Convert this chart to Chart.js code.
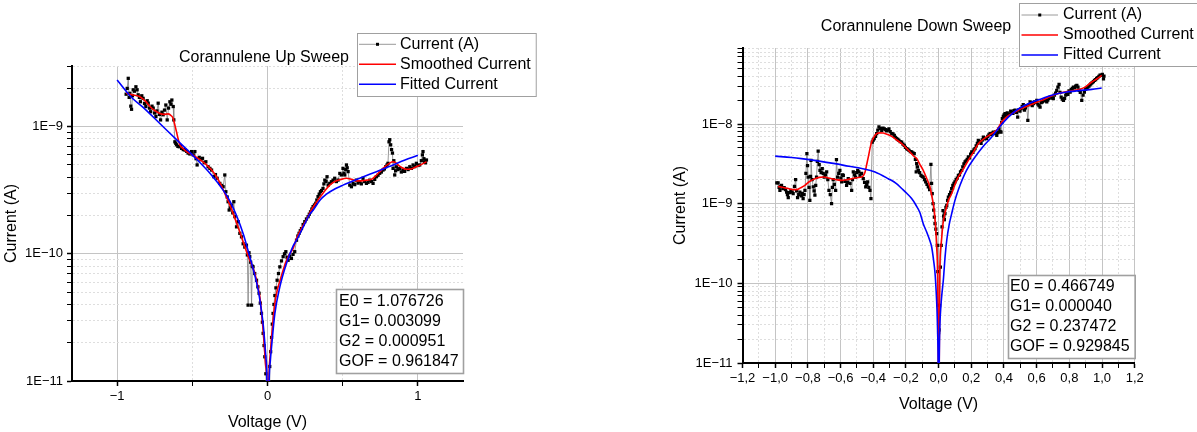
<!DOCTYPE html>
<html>
<head>
<meta charset="utf-8">
<script src="https://cdn.jsdelivr.net/npm/chart.js"></script>
<style>
  html, body { margin: 0; padding: 0; background: #fff; }
  body { width: 1197px; height: 432px; position: relative; overflow: hidden; }
  canvas { position: absolute; top: 0; }
  #up { left: 0; }
  #down { left: 600px; }
</style>
</head>
<body>
<canvas id="up" width="600" height="432"></canvas>
<canvas id="down" width="597" height="432"></canvas>
<script>
// ---- data: [voltage (V), current (A)] ----

const upCurrent = [
  [-0.940,1.80e-9],[-0.933,2.00e-9],[-0.926,2.40e-9],[-0.920,1.70e-9],[-0.915,1.83e-9],[-0.909,1.45e-9],
  [-0.904,1.37e-9],[-0.898,1.75e-9],[-0.893,1.95e-9],[-0.884,1.90e-9],[-0.875,2.06e-9],[-0.867,1.95e-9],
  [-0.860,1.78e-9],[-0.852,1.70e-9],[-0.845,1.57e-9],[-0.836,1.75e-9],[-0.827,1.67e-9],[-0.818,1.52e-9],
  [-0.809,1.44e-9],[-0.800,1.60e-9],[-0.793,1.53e-9],[-0.785,1.40e-9],[-0.777,1.31e-9],[-0.768,1.45e-9],
  [-0.760,1.40e-9],[-0.751,1.28e-9],[-0.742,1.20e-9],[-0.735,1.33e-9],[-0.727,1.53e-9],[-0.719,1.25e-9],
  [-0.711,1.13e-9],[-0.702,1.30e-9],[-0.694,1.24e-9],[-0.685,1.35e-9],[-0.676,1.48e-9],[-0.667,1.13e-9],
  [-0.658,1.40e-9],[-0.649,1.57e-9],[-0.642,1.50e-9],[-0.636,1.62e-9],[-0.627,1.44e-9],[-0.623,1.13e-9],
  [-0.616,7.6e-10],[-0.610,7.4e-10],[-0.605,7.2e-10],[-0.596,7.0e-10],[-0.587,6.95e-10],[-0.579,7.1e-10],
  [-0.571,6.75e-10],[-0.560,6.6e-10],[-0.549,6.55e-10],[-0.538,6.4e-10],[-0.528,6.2e-10],[-0.516,6.1e-10],
  [-0.505,6.37e-10],[-0.494,6.0e-10],[-0.483,6.37e-10],[-0.475,5.6e-10],[-0.468,5.0e-10],[-0.454,5.74e-10],
  [-0.443,5.5e-10],[-0.432,5.64e-10],[-0.421,5.2e-10],[-0.410,5.3e-10],[-0.395,4.84e-10],[-0.383,4.7e-10],
  [-0.372,4.56e-10],[-0.357,4.04e-10],[-0.346,4.2e-10],[-0.335,3.93e-10],[-0.317,3.58e-10],[-0.305,3.45e-10],
  [-0.295,3.37e-10],[-0.284,4.17e-10],[-0.277,3.08e-10],[-0.268,2.8e-10],[-0.262,2.57e-10],[-0.255,2.21e-10],
  [-0.247,2.3e-10],[-0.239,2.42e-10],[-0.231,2.1e-10],[-0.224,2.57e-10],[-0.217,1.96e-10],[-0.206,1.63e-10],
  [-0.195,1.79e-10],[-0.184,1.45e-10],[-0.173,1.36e-10],[-0.162,1.2e-10],[-0.151,1.13e-10],[-0.140,1.17e-10],
  [-0.134,9.8e-11],[-0.129,3.95e-11],[-0.123,1.02e-10],[-0.118,9.5e-11],[-0.112,8.6e-11],[-0.106,3.95e-11],
  [-0.101,8.0e-11],[-0.096,7.9e-11],[-0.085,7.0e-11],[-0.073,6.2e-11],[-0.064,5.5e-11],[-0.056,4.9e-11],
  [-0.048,4.1e-11],[-0.040,3.4e-11],[-0.034,2.9e-11],[-0.029,2.37e-11],[-0.023,1.9e-11],[-0.018,1.55e-11],
  [-0.011,1.14e-11],[-0.006,8.0e-12],
  [0.010,9.0e-12],[0.015,1.3e-11],[0.021,1.7e-11],[0.027,2.2e-11],[0.032,2.8e-11],[0.037,3.4e-11],
  [0.043,4.0e-11],[0.049,4.7e-11],[0.056,5.4e-11],[0.064,6.2e-11],[0.073,7.0e-11],[0.082,7.9e-11],
  [0.093,8.8e-11],[0.104,9.5e-11],[0.113,1.0e-10],[0.122,1.04e-10],[0.130,9.4e-11],[0.137,8.9e-11],
  [0.148,9.6e-11],[0.159,9.2e-11],[0.170,9.9e-11],[0.181,1.04e-10],[0.193,1.28e-10],[0.202,1.38e-10],
  [0.210,1.45e-10],[0.218,1.52e-10],[0.226,1.58e-10],[0.237,1.7e-10],[0.248,1.79e-10],[0.259,1.88e-10],
  [0.270,1.96e-10],[0.278,2.05e-10],[0.286,2.14e-10],[0.295,2.25e-10],[0.303,2.35e-10],[0.312,2.42e-10],
  [0.321,2.50e-10],[0.328,2.65e-10],[0.336,2.82e-10],[0.344,2.95e-10],[0.352,3.08e-10],[0.360,3.15e-10],
  [0.369,3.27e-10],[0.375,3.55e-10],[0.381,3.8e-10],[0.389,3.7e-10],[0.396,4.04e-10],[0.403,3.47e-10],
  [0.414,3.58e-10],[0.425,3.69e-10],[0.436,3.8e-10],[0.447,3.93e-10],[0.458,3.7e-10],[0.469,3.8e-10],
  [0.481,4.29e-10],[0.492,4.17e-10],[0.502,4.7e-10],[0.508,4.3e-10],[0.514,4.17e-10],[0.520,4.6e-10],
  [0.525,5.0e-10],[0.530,4.75e-10],[0.536,4.43e-10],[0.547,3.47e-10],[0.558,3.37e-10],[0.569,3.58e-10],
  [0.580,3.5e-10],[0.591,3.8e-10],[0.602,3.6e-10],[0.613,3.69e-10],[0.624,3.55e-10],[0.635,3.93e-10],
  [0.646,3.7e-10],[0.658,3.58e-10],[0.669,3.65e-10],[0.680,3.8e-10],[0.691,3.7e-10],[0.702,3.58e-10],
  [0.713,3.85e-10],[0.724,4.04e-10],[0.735,4.15e-10],[0.746,4.3e-10],[0.757,4.4e-10],[0.768,4.56e-10],
  [0.777,4.65e-10],[0.786,4.84e-10],[0.795,5.0e-10],[0.801,5.15e-10],[0.808,7.6e-10],[0.813,7.9e-10],
  [0.819,7.2e-10],[0.825,6.6e-10],[0.831,6.2e-10],[0.835,4.7e-10],[0.840,5.4e-10],[0.846,4.17e-10],
  [0.852,4.5e-10],[0.857,4.84e-10],[0.868,4.6e-10],[0.879,4.7e-10],[0.890,4.4e-10],[0.901,4.56e-10],
  [0.912,4.45e-10],[0.924,4.7e-10],[0.935,4.6e-10],[0.946,4.84e-10],[0.957,4.7e-10],[0.968,5.0e-10],
  [0.979,4.85e-10],[0.990,5.15e-10],[1.001,4.95e-10],[1.012,5.0e-10],[1.023,5.4e-10],[1.030,6.0e-10],
  [1.034,6.37e-10],[1.040,5.6e-10],[1.045,5.3e-10],[1.051,5.2e-10],[1.057,5.47e-10]
];

const upSmoothed = [
  [-0.940,1.83e-9],[-0.900,1.78e-9],[-0.849,1.72e-9],[-0.810,1.58e-9],[-0.782,1.44e-9],[-0.750,1.34e-9],
  [-0.716,1.27e-9],[-0.690,1.25e-9],[-0.660,1.26e-9],[-0.640,1.22e-9],[-0.627,1.16e-9],[-0.615,1.02e-9],
  [-0.605,9.1e-10],[-0.594,8.0e-10],[-0.583,7.2e-10],[-0.560,6.7e-10],[-0.538,6.37e-10],[-0.505,6.05e-10],
  [-0.472,5.74e-10],[-0.440,5.4e-10],[-0.405,5.0e-10],[-0.370,4.55e-10],[-0.339,4.04e-10],[-0.310,3.5e-10],
  [-0.284,2.99e-10],[-0.255,2.5e-10],[-0.229,2.08e-10],[-0.200,1.68e-10],[-0.173,1.36e-10],[-0.150,1.13e-10],
  [-0.129,9.6e-11],[-0.105,8.2e-11],[-0.084,7.0e-11],[-0.065,5.6e-11],[-0.051,4.6e-11],[-0.040,3.5e-11],
  [-0.029,2.5e-11],[-0.020,1.8e-11],[-0.011,1.3e-11],[-0.004,1.0e-11],[-0.001,3e-12],
  [0.003,3e-12],[0.009,1.0e-11],[0.018,1.6e-11],[0.027,2.2e-11],[0.038,3.1e-11],[0.049,4.1e-11],
  [0.065,5.2e-11],[0.082,6.1e-11],[0.105,7.5e-11],[0.125,8.8e-11],[0.148,1.0e-10],[0.170,1.1e-10],
  [0.193,1.32e-10],[0.225,1.58e-10],[0.259,1.85e-10],[0.290,2.2e-10],[0.326,2.55e-10],[0.360,2.9e-10],
  [0.392,3.25e-10],[0.414,3.47e-10],[0.447,3.7e-10],[0.480,3.82e-10],[0.525,3.93e-10],[0.560,3.85e-10],
  [0.591,3.75e-10],[0.625,3.75e-10],[0.658,3.8e-10],[0.690,3.85e-10],[0.713,4.04e-10],[0.745,4.4e-10],
  [0.780,4.84e-10],[0.810,5.15e-10],[0.835,5.3e-10],[0.852,5.2e-10],[0.868,5.0e-10],[0.895,4.75e-10],
  [0.924,4.62e-10],[0.955,4.65e-10],[0.990,4.84e-10],[1.025,5.05e-10],[1.057,5.3e-10]
];

const upFitted = [
  [-1.000,2.33e-9],[-0.900,1.68e-9],[-0.827,1.42e-9],[-0.716,1.06e-9],[-0.605,7.9e-10],[-0.494,5.9e-10],
  [-0.383,4.3e-10],[-0.295,3.17e-10],[-0.250,2.6e-10],[-0.206,2.0e-10],[-0.160,1.42e-10],[-0.118,9.5e-11],
  [-0.090,7.2e-11],[-0.062,5.2e-11],[-0.045,3.9e-11],[-0.029,2.8e-11],[-0.018,2.0e-11],[-0.011,1.55e-11],
  [-0.004,1.0e-11],[-0.001,3e-12],
  [0.005,3e-12],[0.011,1.0e-11],[0.019,1.45e-11],[0.027,1.86e-11],[0.049,3.4e-11],[0.082,5.5e-11],
  [0.126,8.4e-11],[0.170,1.15e-10],[0.193,1.28e-10],[0.240,1.65e-10],[0.281,2.05e-10],[0.303,2.2e-10],
  [0.350,2.65e-10],[0.392,2.95e-10],[0.450,3.25e-10],[0.502,3.47e-10],[0.613,3.93e-10],[0.724,4.43e-10],
  [0.835,5.0e-10],[0.910,5.45e-10],[1.000,5.95e-10]
];

const downCurrent = [
  [-0.990,1.82e-9],[-0.982,1.82e-9],[-0.976,1.60e-9],[-0.971,1.47e-9],[-0.966,1.65e-9],[-0.961,1.70e-9],
  [-0.953,1.55e-9],[-0.945,1.59e-9],[-0.937,1.50e-9],[-0.930,1.40e-9],[-0.925,1.30e-9],[-0.920,1.19e-9],
  [-0.912,1.38e-9],[-0.904,1.47e-9],[-0.897,1.40e-9],[-0.890,1.34e-9],[-0.882,1.65e-9],[-0.875,2.00e-9],
  [-0.869,1.45e-9],[-0.863,1.19e-9],[-0.856,1.30e-9],[-0.849,1.40e-9],[-0.840,1.25e-9],[-0.834,1.35e-9],
  [-0.829,1.16e-9],[-0.823,1.30e-9],[-0.818,1.47e-9],[-0.812,2.4e-9],[-0.806,4.26e-9],[-0.802,3.0e-9],
  [-0.798,2.16e-9],[-0.793,1.6e-9],[-0.788,1.10e-9],[-0.784,2.2e-9],[-0.781,3.5e-9],[-0.774,2.0e-9],
  [-0.767,1.62e-9],[-0.762,1.45e-9],[-0.757,1.28e-9],[-0.752,1.7e-9],[-0.747,2.16e-9],[-0.742,3.4e-9],
  [-0.737,4.58e-9],[-0.731,3.1e-9],[-0.726,2.62e-9],[-0.719,2.45e-9],[-0.712,2.76e-9],[-0.706,2.4e-9],
  [-0.700,2.16e-9],[-0.692,2.3e-9],[-0.685,2.50e-9],[-0.678,2.0e-9],[-0.671,1.47e-9],[-0.663,1.3e-9],
  [-0.655,1.0e-9],[-0.650,1.6e-9],[-0.645,2.0e-9],[-0.638,1.75e-9],[-0.630,1.47e-9],[-0.625,3.56e-9],
  [-0.618,2.16e-9],[-0.611,2.4e-9],[-0.604,2.62e-9],[-0.598,2.1e-9],[-0.593,1.88e-9],[-0.588,2.3e-9],
  [-0.583,2.27e-9],[-0.573,1.9e-9],[-0.563,1.70e-9],[-0.558,1.85e-9],[-0.553,2.06e-9],[-0.542,1.8e-9],
  [-0.532,1.47e-9],[-0.527,2.0e-9],[-0.522,2.50e-9],[-0.515,2.3e-9],[-0.508,2.16e-9],[-0.501,2.45e-9],
  [-0.495,2.62e-9],[-0.488,2.5e-9],[-0.481,2.27e-9],[-0.471,2.4e-9],[-0.461,2.06e-9],[-0.453,1.85e-9],
  [-0.446,1.62e-9],[-0.440,1.75e-9],[-0.434,1.88e-9],[-0.427,1.6e-9],[-0.420,1.47e-9],[-0.414,1.16e-9],
  [-0.406,5.94e-9],[-0.400,6.3e-9],[-0.394,6.55e-9],[-0.386,7.0e-9],[-0.379,7.6e-9],[-0.372,8.4e-9],
  [-0.365,9.2e-9],[-0.356,8.8e-9],[-0.348,8.3e-9],[-0.340,8.9e-9],[-0.332,8.7e-9],[-0.325,8.5e-9],
  [-0.318,8.2e-9],[-0.311,8.4e-9],[-0.304,8.7e-9],[-0.296,8.0e-9],[-0.287,7.6e-9],[-0.279,7.5e-9],
  [-0.271,7.2e-9],[-0.264,6.8e-9],[-0.257,6.55e-9],[-0.250,6.4e-9],[-0.243,6.24e-9],[-0.235,6.0e-9],
  [-0.226,5.94e-9],[-0.218,5.6e-9],[-0.210,5.4e-9],[-0.203,5.1e-9],[-0.195,4.9e-9],[-0.188,4.8e-9],
  [-0.181,4.68e-9],[-0.173,4.5e-9],[-0.165,4.46e-9],[-0.157,4.35e-9],[-0.149,4.25e-9],[-0.142,3.6e-9],
  [-0.137,2.5e-9],[-0.134,3.18e-9],[-0.129,2.9e-9],[-0.124,2.62e-9],[-0.116,2.45e-9],[-0.108,2.27e-9],
  [-0.101,2.2e-9],[-0.094,2.16e-9],[-0.086,2.0e-9],[-0.079,1.88e-9],[-0.071,1.75e-9],[-0.063,1.62e-9],
  [-0.055,1.5e-9],[-0.047,3.12e-9],[-0.043,1.8e-9],[-0.039,1.34e-9],[-0.034,1.0e-9],[-0.030,8.3e-10],
  [-0.026,6.8e-10],[-0.022,5.6e-10],[-0.017,4.8e-10],[-0.012,4.2e-10],[-0.008,3.0e-10],[-0.005,1.4e-10],
  [-0.002,5.3e-11],[0.000,2.4e-11],[0.003,2.6e-11],[0.006,5.3e-11],[0.011,1.6e-10],[0.016,3.0e-10],
  [0.021,5.1e-10],[0.027,8.2e-10],[0.031,7.0e-10],[0.035,6.3e-10],[0.039,7.5e-10],[0.045,9.0e-10],
  [0.050,9.5e-10],[0.055,1.1e-9],[0.060,1.21e-9],[0.067,1.3e-9],[0.074,1.4e-9],[0.080,1.55e-9],
  [0.087,1.7e-9],[0.094,1.8e-9],[0.100,1.88e-9],[0.107,2.0e-9],[0.114,2.1e-9],[0.121,2.27e-9],
  [0.128,2.3e-9],[0.134,2.5e-9],[0.141,2.62e-9],[0.148,2.9e-9],[0.155,3.17e-9],[0.162,3.34e-9],
  [0.168,3.45e-9],[0.175,3.6e-9],[0.182,3.86e-9],[0.189,3.75e-9],[0.196,4.2e-9],[0.203,4.46e-9],
  [0.210,4.4e-9],[0.216,4.75e-9],[0.223,4.9e-9],[0.230,5.3e-9],[0.237,5.7e-9],[0.243,6.24e-9],
  [0.251,6.0e-9],[0.260,5.7e-9],[0.267,6.3e-9],[0.274,6.86e-9],[0.281,6.5e-9],[0.288,6.6e-9],
  [0.294,6.55e-9],[0.301,7.0e-9],[0.308,7.3e-9],[0.315,7.57e-9],[0.322,7.4e-9],[0.328,7.7e-9],
  [0.335,7.93e-9],[0.342,7.6e-9],[0.349,7.9e-9],[0.356,7.2e-9],[0.363,7.8e-9],[0.370,8.7e-9],
  [0.376,8.0e-9],[0.382,7.93e-9],[0.386,1.05e-8],[0.390,1.17e-8],[0.396,1.25e-8],[0.401,1.3e-8],
  [0.407,1.35e-8],[0.414,1.26e-8],[0.420,1.38e-8],[0.427,1.29e-8],[0.434,1.33e-8],[0.441,1.45e-8],
  [0.448,1.41e-8],[0.455,1.36e-8],[0.461,1.47e-8],[0.468,1.49e-8],[0.476,1.4e-8],[0.484,1.22e-8],
  [0.491,1.5e-8],[0.498,1.45e-8],[0.505,1.56e-8],[0.512,1.65e-8],[0.518,1.75e-8],[0.525,1.49e-8],
  [0.532,1.6e-8],[0.539,1.7e-8],[0.546,1.11e-8],[0.553,1.75e-8],[0.560,1.89e-8],[0.567,1.85e-8],
  [0.573,1.7e-8],[0.580,1.80e-8],[0.587,1.9e-8],[0.594,1.85e-8],[0.601,1.98e-8],[0.608,1.78e-8],
  [0.614,1.7e-8],[0.621,1.63e-8],[0.628,1.85e-8],[0.635,1.9e-8],[0.641,1.98e-8],[0.648,1.95e-8],
  [0.655,2.05e-8],[0.662,1.89e-8],[0.668,2.0e-8],[0.675,2.1e-8],[0.682,2.18e-8],[0.689,2.2e-8],
  [0.695,2.12e-8],[0.702,2.08e-8],[0.709,2.3e-8],[0.716,2.45e-8],[0.723,2.65e-8],[0.730,2.9e-8],
  [0.737,3.14e-8],[0.743,2.5e-8],[0.750,2.18e-8],[0.757,2.05e-8],[0.764,1.98e-8],[0.771,2.1e-8],
  [0.778,2.3e-8],[0.784,2.41e-8],[0.791,2.35e-8],[0.798,2.6e-8],[0.805,2.52e-8],[0.812,2.7e-8],
  [0.818,2.8e-8],[0.825,2.91e-8],[0.832,2.85e-8],[0.839,3.0e-8],[0.846,3.06e-8],[0.853,2.9e-8],
  [0.860,2.65e-8],[0.867,2.5e-8],[0.876,1.98e-8],[0.884,2.3e-8],[0.892,2.52e-8],[0.900,2.75e-8],
  [0.907,2.8e-8],[0.913,2.91e-8],[0.920,3.0e-8],[0.927,3.1e-8],[0.933,3.21e-8],[0.940,3.3e-8],
  [0.947,3.4e-8],[0.954,3.54e-8],[0.961,3.6e-8],[0.967,3.75e-8],[0.974,3.83e-8],[0.981,3.95e-8],
  [0.988,4.1e-8],[0.995,4.08e-8],[1.002,4.2e-8],[1.009,3.7e-8],[1.012,4.0e-8]
];

const downSmoothed = [
  [-0.982,1.65e-9],[-0.950,1.60e-9],[-0.920,1.55e-9],[-0.890,1.50e-9],[-0.869,1.50e-9],[-0.845,1.58e-9],
  [-0.818,1.70e-9],[-0.790,1.90e-9],[-0.757,2.06e-9],[-0.730,2.14e-9],[-0.706,2.16e-9],[-0.680,2.12e-9],
  [-0.655,2.06e-9],[-0.625,2.0e-9],[-0.593,1.96e-9],[-0.560,2.0e-9],[-0.532,2.06e-9],[-0.500,2.12e-9],
  [-0.471,2.16e-9],[-0.460,2.25e-9],[-0.450,2.5e-9],[-0.440,3.1e-9],[-0.430,3.86e-9],[-0.420,4.9e-9],
  [-0.410,5.94e-9],[-0.395,6.9e-9],[-0.379,7.57e-9],[-0.360,7.75e-9],[-0.338,7.7e-9],[-0.313,7.4e-9],
  [-0.287,7.0e-9],[-0.256,6.3e-9],[-0.226,5.67e-9],[-0.200,5.05e-9],[-0.175,4.46e-9],[-0.155,4.0e-9],
  [-0.134,3.68e-9],[-0.114,3.1e-9],[-0.094,2.62e-9],[-0.074,2.1e-9],[-0.053,1.62e-9],[-0.040,1.2e-9],
  [-0.026,8.0e-10],[-0.018,5.0e-10],[-0.012,2.9e-10],[-0.006,1.2e-10],[-0.002,1.0e-11],[0.001,1e-12],
  [0.004,1.0e-11],[0.007,1.3e-10],[0.015,3.0e-10],[0.027,5.6e-10],[0.039,7.6e-10],[0.060,1.1e-9],
  [0.080,1.34e-9],[0.110,1.96e-9],[0.150,2.7e-9],[0.182,3.5e-9],[0.215,4.5e-9],[0.243,5.67e-9],
  [0.285,6.7e-9],[0.325,7.57e-9],[0.360,8.6e-9],[0.386,1.06e-8],[0.415,1.22e-8],[0.448,1.35e-8],
  [0.490,1.5e-8],[0.529,1.63e-8],[0.580,1.8e-8],[0.631,1.98e-8],[0.680,2.2e-8],[0.733,2.41e-8],
  [0.785,2.55e-8],[0.835,2.65e-8],[0.870,2.75e-8],[0.896,2.91e-8],[0.937,3.37e-8],[0.970,3.7e-8],
  [0.998,4.08e-8]
];

const downFitted = [
  [-1.000,3.95e-9],[-0.900,3.8e-9],[-0.839,3.68e-9],[-0.740,3.45e-9],[-0.634,3.18e-9],[-0.550,2.95e-9],
  [-0.471,2.76e-9],[-0.389,2.5e-9],[-0.308,2.06e-9],[-0.260,1.8e-9],[-0.226,1.55e-9],[-0.195,1.35e-9],
  [-0.165,1.16e-9],[-0.140,9.7e-10],[-0.114,7.7e-10],[-0.094,5.6e-10],[-0.073,4.4e-10],[-0.055,3.5e-10],
  [-0.043,2.9e-10],[-0.030,1.9e-10],[-0.022,1.35e-10],[-0.015,8.0e-11],[-0.010,4.8e-11],[-0.006,2.5e-11],
  [-0.003,1.1e-11],[-0.001,2e-12],
  [0.002,2e-12],[0.004,1.1e-11],[0.008,3.0e-11],[0.015,5.5e-11],[0.022,8.0e-11],[0.029,1.1e-10],
  [0.040,2.2e-10],[0.050,3.5e-10],[0.065,5.5e-10],[0.080,7.5e-10],[0.100,1.1e-9],[0.121,1.5e-9],
  [0.170,2.6e-9],[0.223,3.86e-9],[0.275,5.3e-9],[0.325,6.86e-9],[0.375,9.3e-9],[0.427,1.22e-8],
  [0.478,1.5e-8],[0.529,1.72e-8],[0.580,1.92e-8],[0.631,2.08e-8],[0.682,2.26e-8],[0.733,2.41e-8],
  [0.785,2.52e-8],[0.835,2.59e-8],[0.886,2.66e-8],[0.937,2.72e-8],[0.998,2.83e-8]
];

// ---- tick values and labels ----
const upXMajor = [-1, 0, 1];
const upXLabels = ['−1', '0', '1'];
const upXMinor = [-0.5, 0.5];
const upYMajor = [1e-11, 1e-10, 1e-9];
const upYLabels = ['1E−11', '1E−10', '1E−9'];

const downXMajor = [-1.2, -1.0, -0.8, -0.6, -0.4, -0.2, 0, 0.2, 0.4, 0.6, 0.8, 1.0, 1.2];
const downXLabels = ['−1,2', '−1,0', '−0,8', '−0,6', '−0,4', '−0,2', '0,0', '0,2', '0,4', '0,6', '0,8', '1,0', '1,2'];
const downXMinor = [-1.1, -0.9, -0.7, -0.5, -0.3, -0.1, 0.1, 0.3, 0.5, 0.7, 0.9, 1.1];
const downYMajor = [1e-11, 1e-10, 1e-9, 1e-8];
const downYLabels = ['1E−11', '1E−10', '1E−9', '1E−8'];

const decadeSteps = [2, 3, 4, 5, 6, 7, 8, 9];

const seriesNames = ['Current (A)', 'Smoothed Current', 'Fitted Current'];
const upStats = ['E0 = 1.076726', 'G1= 0.003099', 'G2 = 0.000951', 'GOF = 0.961847'];
const downStats = ['E0 = 0.466749', 'G1= 0.000040', 'G2 = 0.237472', 'GOF = 0.929845'];

// ---- drawing ----
const FAMILY = '"Liberation Sans", Arial, sans-serif';
const FONT16 = '16px ' + FAMILY;
Chart.defaults.font.family = FAMILY;
Chart.defaults.color = '#000';

const toXY = rows => rows.map(([x, y]) => ({x, y}));

const sameValue = (a, b) => Math.abs(a - b) <= Math.abs(a) * 1e-6 + 1e-15;

function linearTicks(major, minor) {
  return major.map(v => ({value: v, major: true}))
    .concat(minor.map(v => ({value: v, major: false})))
    .sort((a, b) => a.value - b.value);
}

function logTicks(major, min, max) {
  const out = major.map(v => ({value: v, major: true}));
  major.forEach(d => decadeSteps.forEach(m => {
    const v = d * m;
    if (v >= min && v <= max * 1.0001) out.push({value: v, major: false});
  }));
  return out.sort((a, b) => a.value - b.value);
}

function labeler(values, labels) {
  return v => {
    const k = values.findIndex(m => sameValue(m, v));
    return k >= 0 ? labels[k] : '';
  };
}

const gridOpts = {
  color: c => (c.tick && c.tick.major) ? '#c4c4c4' : '#dedede',
  lineWidth: 1,
  tickColor: '#000',
  tickLength: 5,
  tickWidth: c => (c.tick && c.tick.major) ? 1.5 : 1
};
const borderOpts = {
  color: '#000',
  width: 2,
  dash: c => (c.tick && !c.tick.major) ? [2, 2] : []
};

const overlay = {
  id: 'overlay',
  afterDraw(chart, args, o) {
    const ctx = chart.ctx;
    ctx.save();
    ctx.font = FONT16;
    ctx.fillStyle = '#000';
    ctx.textBaseline = 'middle';
    ctx.textAlign = 'center';
    ctx.fillText(o.title, o.titleX, o.titleY);

    // legend
    const L = o.legend;
    const sets = chart.data.datasets;
    ctx.textAlign = 'left';
    const tw = Math.max(...sets.map(d => ctx.measureText(d.label).width));
    const w = L.textDx + tw + 5;
    ctx.fillStyle = '#fff';
    ctx.fillRect(L.x, L.y, w, L.h);
    ctx.strokeStyle = '#a0a0a0';
    ctx.lineWidth = 1;
    ctx.strokeRect(L.x + 0.5, L.y + 0.5, w, L.h);
    sets.forEach((d, k) => {
      const y = L.y + L.row0 + k * L.rowGap;
      ctx.strokeStyle = d.borderColor;
      ctx.lineWidth = d.borderWidth;
      ctx.beginPath();
      ctx.moveTo(L.x + L.line0, y);
      ctx.lineTo(L.x + L.line1, y);
      ctx.stroke();
      if (d.pointRadius > 0) {
        const mx = L.x + (L.line0 + L.line1) / 2;
        ctx.fillStyle = d.pointBackgroundColor;
        ctx.fillRect(mx - 1.5, y - 1.5, 3, 3);
      }
      ctx.fillStyle = '#000';
      ctx.fillText(d.label, L.x + L.textDx, y);
    });

    // fit parameters box
    const S = o.stats;
    ctx.fillStyle = '#fff';
    ctx.fillRect(S.x, S.y, S.w, S.h);
    ctx.strokeStyle = '#a0a0a0';
    ctx.strokeRect(S.x + 0.5, S.y + 0.5, S.w, S.h);
    ctx.fillStyle = '#000';
    o.lines.forEach((t, k) => ctx.fillText(t, S.x + S.textDx, S.y + S.row0 + k * S.rowGap));
    ctx.restore();
  }
};

function makeChart(id, d) {
  return new Chart(document.getElementById(id), {
    type: 'scatter',
    data: {
      datasets: [
        {
          label: seriesNames[0], data: toXY(d.current), order: 3,
          showLine: true, borderColor: '#808080', borderWidth: 0.8,
          pointStyle: 'rect', pointRadius: 2.3, pointBorderWidth: 0,
          pointBackgroundColor: '#000', pointBorderColor: '#000'
        },
        {
          label: seriesNames[1], data: toXY(d.smoothed), order: 2,
          showLine: true, borderColor: '#ff0000', borderWidth: 1.6,
          pointRadius: 0, cubicInterpolationMode: 'monotone'
        },
        {
          label: seriesNames[2], data: toXY(d.fitted), order: 1,
          showLine: true, borderColor: '#0000ff', borderWidth: 1.6,
          pointRadius: 0, cubicInterpolationMode: 'monotone'
        }
      ]
    },
    options: {
      responsive: false,
      animation: false,
      devicePixelRatio: 1,
      events: [],
      layout: {padding: d.padding},
      plugins: {
        legend: {display: false},
        tooltip: {enabled: false},
        overlay: d.overlay
      },
      scales: {
        x: {
          type: 'linear',
          min: d.xMin, max: d.xMax,
          afterBuildTicks: s => { s.ticks = linearTicks(d.xMajor, d.xMinor); },
          afterFit: s => { s.height = d.xHeight; },
          ticks: {
            autoSkip: false, maxRotation: 0, padding: 3,
            font: {size: 13}, color: '#000',
            callback: labeler(d.xMajor, d.xLabels)
          },
          grid: gridOpts,
          border: borderOpts,
          title: {display: true, text: 'Voltage (V)', font: {size: 16}, color: '#000',
                  padding: {top: 0, bottom: d.xTitlePad}}
        },
        y: {
          type: 'logarithmic',
          min: d.yMin, max: d.yMax,
          afterBuildTicks: s => { s.ticks = logTicks(d.yMajor, d.yMin, d.yMax); },
          afterFit: s => { s.width = d.yWidth; },
          ticks: {
            autoSkip: false, padding: d.yTickPad,
            font: {size: 13}, color: '#000',
            callback: labeler(d.yMajor, d.yLabels)
          },
          grid: gridOpts,
          border: borderOpts,
          title: {display: true, text: 'Current (A)', font: {size: 16}, color: '#000',
                  padding: {top: 2, bottom: 0}}
        }
      }
    },
    plugins: [overlay]
  });
}

makeChart('up', {
  current: upCurrent, smoothed: upSmoothed, fitted: upFitted,
  xMin: -1.3, xMax: 1.3, xMajor: upXMajor, xMinor: upXMinor, xLabels: upXLabels,
  yMin: 1e-11, yMax: 3e-9, yMajor: upYMajor, yLabels: upYLabels,
  padding: {left: 0, top: 66, right: 137, bottom: 0},
  yWidth: 72, xHeight: 51, xTitlePad: 0, yTickPad: 4,
  overlay: {
    title: 'Corannulene Up Sweep', titleX: 264, titleY: 58,
    legend: {x: 357, y: 33, h: 63, row0: 11.3, rowGap: 20, line0: 2, line1: 39, textDx: 43},
    stats: {x: 336, y: 289, w: 127, h: 84, textDx: 3, row0: 12.7, rowGap: 20},
    lines: upStats
  }
});

makeChart('down', {
  current: downCurrent, smoothed: downSmoothed, fitted: downFitted,
  xMin: -1.2, xMax: 1.2, xMajor: downXMajor, xMinor: downXMinor, xLabels: downXLabels,
  yMin: 1e-11, yMax: 9e-8, yMajor: downYMajor, yLabels: downYLabels,
  padding: {left: 69, top: 48, right: 62.3, bottom: 0},
  yWidth: 73.5, xHeight: 69, xTitlePad: 18, yTickPad: 5,
  overlay: {
    title: 'Corannulene Down Sweep', titleX: 316, titleY: 27,
    legend: {x: 419, y: 3, h: 63, row0: 12, rowGap: 20, line0: 2.5, line1: 39, textDx: 44},
    stats: {x: 408, y: 275, w: 126.7, h: 83, textDx: 2, row0: 11.7, rowGap: 20},
    lines: downStats
  }
});
</script>
</body>
</html>
